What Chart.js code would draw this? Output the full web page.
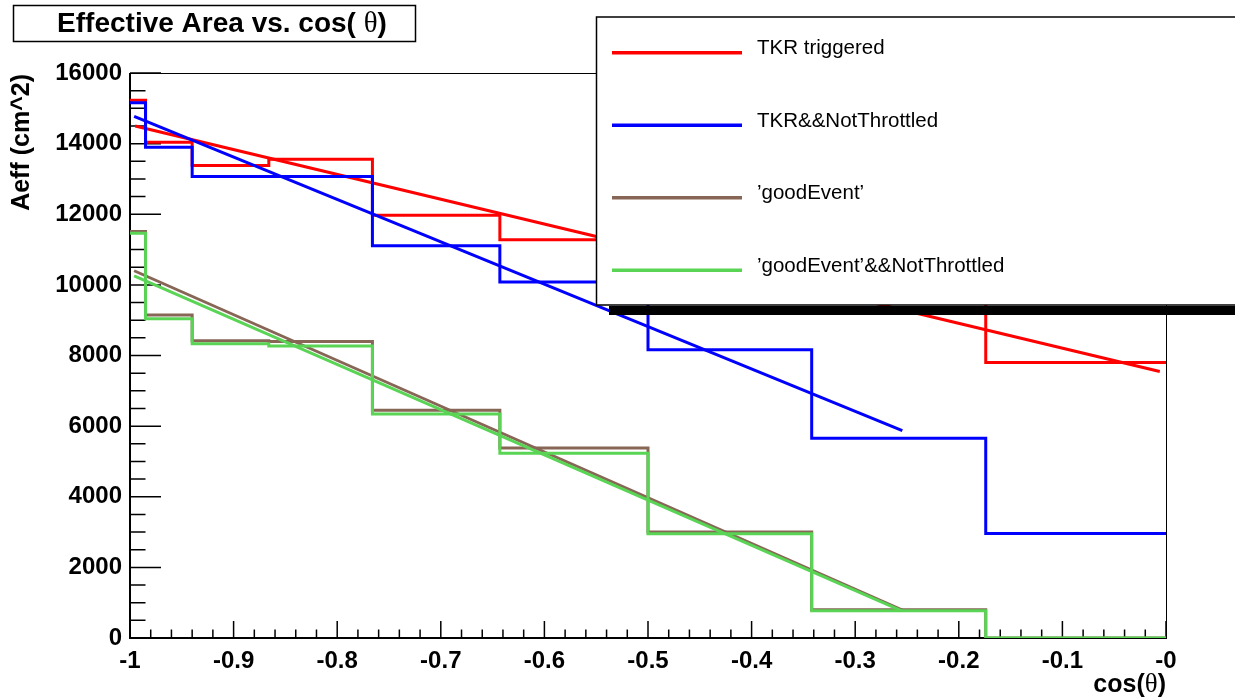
<!DOCTYPE html>
<html><head><meta charset="utf-8">
<script src="https://cdn.jsdelivr.net/npm/chart.js@4/dist/chart.umd.min.js"></script>
<style>html,body{margin:0;padding:0;background:#fff;} canvas{display:block;}</style>
</head><body>
<canvas id="c" width="1235" height="699"></canvas>
<script>
// ---- data ----
const binEdges = [-1, -0.985, -0.940, -0.866, -0.766, -0.643, -0.500, -0.342, -0.174, 0];
const tkrTriggered          = [15230, 14040, 13380, 13560, 11970, 11280, 10500, 9600, 7800];
const tkrNotThrottled       = [15160, 13900, 13070, 13070, 11110, 10080, 8160, 5660, 2960];
const goodEvent             = [11510, 9150, 8420, 8400, 6450, 5380, 3000, 800, 0];
const goodEventNotThrottled = [11460, 9040, 8330, 8270, 6340, 5230, 2950, 770, 0];

const fitRedX = [-0.995, -0.006];   const fitRedY = [14500, 7545];
const fitBlueX = [-0.996, -0.2545]; const fitBlueY = [14770, 5873];
const fitBrownX = [-0.996, -0.255]; const fitBrownY = [10400, 800];
const fitGreenX = [-0.996, -0.255]; const fitGreenY = [10255, 770];

const seriesLabels = ['TKR triggered', 'TKR&&NotThrottled', "\u2019goodEvent\u2019", "\u2019goodEvent\u2019&&NotThrottled"];
const xTickValues = [-1, -0.9, -0.8, -0.7, -0.6, -0.5, -0.4, -0.3, -0.2, -0.1, 0];
const yTickValues = [0, 2000, 4000, 6000, 8000, 10000, 12000, 14000, 16000];

// ---- styling ----
const COLORS = ['#ff0000', '#0000ff', '#876656', '#59d454'];
const FONT = '"Liberation Sans", Arial, Helvetica, sans-serif';
const SERIF = '"Liberation Serif", "DejaVu Serif", serif';

function histPoints(vals) {
  const pts = vals.map((v, i) => ({x: binEdges[i], y: v}));
  pts.push({x: binEdges[binEdges.length - 1], y: vals[vals.length - 1]});
  return pts;
}
function fitPoints(xs, ys) { return xs.map((x, i) => ({x, y: ys[i]})); }

const hists = [tkrTriggered, tkrNotThrottled, goodEvent, goodEventNotThrottled];
const fits = [[fitRedX, fitRedY], [fitBlueX, fitBlueY], [fitBrownX, fitBrownY], [fitGreenX, fitGreenY]];

const datasets = [];
hists.forEach((h, i) => {
  datasets.push({label: seriesLabels[i], data: histPoints(h), stepped: 'before',
    borderColor: COLORS[i], borderWidth: 3, pointRadius: 0, fill: false, order: 20 - i * 2});
  datasets.push({label: seriesLabels[i] + ' fit', data: fitPoints(fits[i][0], fits[i][1]),
    borderColor: COLORS[i], borderWidth: 3, pointRadius: 0, fill: false, order: 19 - i * 2});
});

const frameTicks = {
  id: 'frameTicks',
  beforeDatasetsDraw(chart) {
    const {ctx, chartArea: a, scales: {x, y}} = chart;
    ctx.save();
    ctx.strokeStyle = '#000';
    ctx.lineWidth = 1;
    ctx.strokeRect(a.left + 0.5, a.top + 0.5, a.right - a.left, a.bottom - a.top);
    ctx.lineWidth = 2;
    ctx.beginPath(); ctx.moveTo(a.left, a.top); ctx.lineTo(a.left, a.bottom); ctx.lineTo(a.right, a.bottom); ctx.stroke();
    ctx.lineWidth = 1.5;
    ctx.beginPath();
    for (let i = 0; i <= 50; i++) {
      const px = x.getPixelForValue(-1 + i * 0.02);
      const len = i % 5 === 0 ? 17 : 8.5;
      ctx.moveTo(px, a.bottom); ctx.lineTo(px, a.bottom - len);
    }
    for (let i = 0; i <= 32; i++) {
      const py = y.getPixelForValue(i * 500);
      const len = i % 4 === 0 ? 31 : 15.5;
      ctx.moveTo(a.left, py); ctx.lineTo(a.left + len, py);
    }
    ctx.stroke();
    ctx.restore();
  },
  afterDraw(chart) {
    const {ctx, chartArea: a} = chart;
    ctx.save();
    ctx.fillStyle = '#000';
    // y-axis title
    ctx.save();
    ctx.translate(22, a.top + 1);
    ctx.rotate(-Math.PI / 2);
    ctx.font = 'bold 25px ' + FONT;
    ctx.textAlign = 'right'; ctx.textBaseline = 'middle';
    ctx.fillText('Aeff (cm^2)', 0, 0);
    ctx.restore();
    // x-axis title  cos(θ)
    drawMixed(ctx, [['cos(', 'bold 25px ' + FONT], ['\u03b8', '27px ' + SERIF], [')', 'bold 25px ' + FONT]], a.right, 685, 'right');
    // title box
    ctx.lineWidth = 1.5; ctx.strokeStyle = '#000';
    ctx.fillStyle = '#fff';
    ctx.fillRect(13, 5, 402, 36);
    ctx.strokeRect(13.5, 5.5, 402, 36);
    ctx.fillStyle = '#000';
    drawMixed(ctx, [['Effective Area vs. cos( ', 'bold 28px ' + FONT], ['\u03b8', '29px ' + SERIF], [')', 'bold 28px ' + FONT]], 222, 24, 'center');
    // legend
    ctx.fillStyle = '#000';
    ctx.fillRect(609, 306, 700, 9);
    ctx.fillStyle = '#fff';
    ctx.fillRect(596, 17, 700, 288);
    ctx.lineWidth = 1.5;
    ctx.strokeRect(596.5, 17, 700, 288);
    const rows = [52.7, 125.2, 197.8, 270.3];
    seriesLabels.forEach((lab, i) => {
      ctx.strokeStyle = COLORS[i]; ctx.lineWidth = 3.5;
      ctx.beginPath(); ctx.moveTo(612, rows[i]); ctx.lineTo(742, rows[i]); ctx.stroke();
      ctx.fillStyle = '#000';
      ctx.font = '20.5px ' + FONT; ctx.textAlign = 'left'; ctx.textBaseline = 'middle';
      ctx.fillText(lab, 757, rows[i] - 4);
    });
    ctx.restore();
  }
};

function drawMixed(ctx, parts, x, y, align) {
  let total = 0;
  const widths = parts.map(([t, f]) => { ctx.font = f; const w = ctx.measureText(t).width; total += w; return w; });
  let cx = align === 'right' ? x - total : (align === 'center' ? x - total / 2 : x);
  ctx.textAlign = 'left'; ctx.textBaseline = 'middle';
  parts.forEach(([t, f], i) => { ctx.font = f; ctx.fillText(t, cx, y); cx += widths[i]; });
}

new Chart(document.getElementById('c'), {
  type: 'line',
  data: {datasets},
  options: {
    responsive: false, animation: false, devicePixelRatio: 1,
    layout: {padding: {left: 0, right: 69, top: 73, bottom: 0}},
    plugins: {legend: {display: false}, tooltip: {enabled: false}, title: {display: false}},
    scales: {
      x: {type: 'linear', min: -1, max: 0,
        afterFit: s => { s.height = 61; },
        afterBuildTicks: s => { s.ticks = xTickValues.map(v => ({value: v})); },
        grid: {display: false, drawTicks: false}, border: {display: false},
        ticks: {color: '#000', font: {family: FONT, size: 24, weight: 'bold'}, padding: 9,
          maxRotation: 0, autoSkip: false,
          callback: v => Math.abs(v) < 1e-9 ? '-0' : (Math.abs(v + 1) < 1e-9 ? '-1' : v.toFixed(1))}},
      y: {type: 'linear', min: 0, max: 16000,
        afterFit: s => { s.width = 130; },
        afterBuildTicks: s => { s.ticks = yTickValues.map(v => ({value: v})); },
        grid: {display: false, drawTicks: false}, border: {display: false},
        ticks: {color: '#000', font: {family: FONT, size: 24, weight: 'bold'}, padding: 8,
          callback: v => String(v)}}
    }
  },
  plugins: [frameTicks]
});
</script>
</body></html>
